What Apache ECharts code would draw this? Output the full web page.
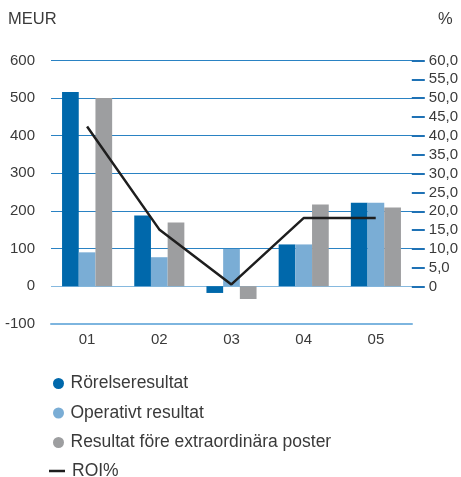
<!DOCTYPE html>
<html>
<head>
<meta charset="utf-8">
<script src="https://cdn.jsdelivr.net/npm/echarts@6/dist/echarts.min.js"></script>
<style>
  html, body { margin: 0; padding: 0; background: #fff; }
  #chart { width: 461px; height: 477px; }
</style>
</head>
<body>
<div id="chart"></div>
<script>
// Periods on the x axis
const categories = ['01', '02', '03', '04', '05'];

// MEUR series
const rorelseresultat = [516, 188, -18, 111, 222];
const operativtResultat = [90, 77, 99, 111, 222];
const resultatForeExtra = [500, 169, -34, 217, 209];

// ROI, percent
const roi = [42.5, 15.2, 0.6, 18.2, 18.2];

// Axis ranges
const leftMin = -100, leftMax = 600, leftStep = 100;
const rightMin = 0, rightMax = 60, rightStep = 5;

const FONT = "'Liberation Sans', Arial, sans-serif";
const TEXT = '#3a3a3a';
const GRID_BLUE = '#2a82c3';
const ZERO_BLUE = '#86b9df';

const chart = echarts.init(document.getElementById('chart'), null, { renderer: 'canvas' });

chart.setOption({
  animation: false,
  textStyle: { fontFamily: FONT },
  grid: [
    { left: 51, right: 49, top: 60.5, height: 263.3, containLabel: false },
    { left: 51, right: 49, top: 60.5, height: 226.2, containLabel: false }
  ],
  graphic: [
    { type: 'text', left: 8, top: 11, style: { text: 'MEUR', font: '16.5px ' + FONT, fill: TEXT } },
    { type: 'text', left: 438, top: 11, style: { text: '%', font: '16.5px ' + FONT, fill: TEXT } }
  ],
  xAxis: [
    {
      type: 'category', gridIndex: 0, data: categories,
      axisLine: { onZero: false, lineStyle: { color: '#7db5df', width: 2 } },
      axisTick: { show: false },
      axisLabel: { color: TEXT, fontSize: 15, margin: 9, fontFamily: FONT }
    },
    {
      type: 'category', gridIndex: 1, data: categories, show: false
    }
  ],
  yAxis: [
    {
      type: 'value', gridIndex: 0, min: leftMin, max: leftMax, interval: leftStep,
      axisLine: { show: false }, axisTick: { show: false },
      axisLabel: { color: TEXT, fontSize: 15, margin: 16, fontFamily: FONT },
      splitLine: {
        lineStyle: {
          // one colour per line, from -100 up to 600; the zero line is lighter
          color: ['#7db5df', ZERO_BLUE, GRID_BLUE, GRID_BLUE, GRID_BLUE, GRID_BLUE, GRID_BLUE, GRID_BLUE],
          width: 1
        }
      }
    },
    {
      type: 'value', gridIndex: 1, position: 'right', min: rightMin, max: rightMax, interval: rightStep,
      axisLine: { show: false },
      axisTick: { show: true, length: 13, lineStyle: { color: '#1f72b5', width: 2 } },
      axisLabel: {
        color: TEXT, fontSize: 15, margin: 17, fontFamily: FONT,
        formatter: function (v) { return v === 0 ? '0' : v.toFixed(1).replace('.', ','); }
      },
      splitLine: { show: false }
    }
  ],
  legend: [
    {
      orient: 'vertical', left: 48, top: 369.5, itemGap: 11.5, itemWidth: 16, itemHeight: 11,
      textStyle: { color: TEXT, fontSize: 17.5, fontFamily: FONT, padding: [0, 0, 0, -1] },
      data: [
        { name: 'Rörelseresultat', icon: 'circle' },
        { name: 'Operativt resultat', icon: 'circle' },
        { name: 'Resultat före extraordinära poster', icon: 'circle' }
      ]
    },
    {
      orient: 'vertical', left: 44, top: 457, itemWidth: 16, itemHeight: 2.5,
      textStyle: { color: TEXT, fontSize: 17.5, fontFamily: FONT, padding: [0, 0, 0, 2] },
      data: [{ name: 'ROI%', icon: 'rect' }]
    }
  ],
  series: [
    {
      name: 'Rörelseresultat', type: 'bar', xAxisIndex: 0, yAxisIndex: 0,
      data: rorelseresultat, barWidth: 16.7, barGap: '0%',
      itemStyle: { color: '#0068ab' }
    },
    {
      name: 'Operativt resultat', type: 'bar', xAxisIndex: 0, yAxisIndex: 0,
      data: operativtResultat, barWidth: 16.7, barGap: '0%',
      itemStyle: { color: '#7aadd5' }
    },
    {
      name: 'Resultat före extraordinära poster', type: 'bar', xAxisIndex: 0, yAxisIndex: 0,
      data: resultatForeExtra, barWidth: 16.7, barGap: '0%',
      itemStyle: { color: '#9d9ea0' }
    },
    {
      name: 'ROI%', type: 'line', xAxisIndex: 1, yAxisIndex: 1,
      data: roi, symbol: 'none', z: 5,
      lineStyle: { color: '#1e1e1e', width: 2.5 },
      itemStyle: { color: '#1e1e1e' }
    }
  ]
});
</script>
</body>
</html>
